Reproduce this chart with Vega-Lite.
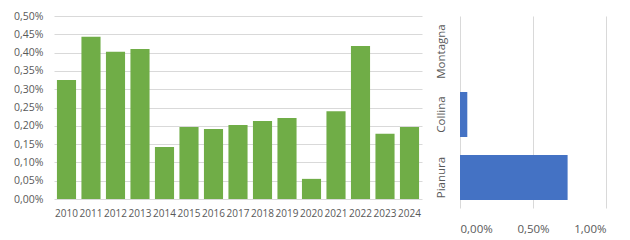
{
  "$schema": "https://vega.github.io/schema/vega-lite/v6.json",
  "padding": {"left": 13, "top": 11, "right": 5, "bottom": 5},
  "background": "white",
  "config": {
    "locale": {"number": {"decimal": ",", "thousands": ".", "grouping": [3], "currency": ["€", ""]}},
    "view": {"stroke": null},
    "font": "Open Sans",
    "axis": {"labelColor": "#595959", "labelFont": "Open Sans", "gridColor": "#D9D9D9", "gridWidth": 1, "domain": false, "ticks": false, "title": null}
  },
  "spacing": 12,
  "hconcat": [
    {
      "width": 368,
      "height": 183,
      "data": {"values": [
        {"anno": "2010", "valore": 0.00325},
        {"anno": "2011", "valore": 0.00443},
        {"anno": "2012", "valore": 0.00402},
        {"anno": "2013", "valore": 0.00410},
        {"anno": "2014", "valore": 0.00142},
        {"anno": "2015", "valore": 0.00197},
        {"anno": "2016", "valore": 0.00191},
        {"anno": "2017", "valore": 0.00202},
        {"anno": "2018", "valore": 0.00213},
        {"anno": "2019", "valore": 0.00221},
        {"anno": "2020", "valore": 0.00055},
        {"anno": "2021", "valore": 0.00240},
        {"anno": "2022", "valore": 0.00418},
        {"anno": "2023", "valore": 0.00178},
        {"anno": "2024", "valore": 0.00197}
      ]},
      "mark": {"type": "bar", "color": "#70AD47"},
      "encoding": {
        "x": {"field": "anno", "type": "ordinal", "scale": {"paddingInner": 0.22, "paddingOuter": 0.12},
              "axis": {"labelAngle": 0, "labelFontSize": 10, "labelPadding": 9, "grid": false, "title": null}},
        "y": {"field": "valore", "type": "quantitative", "scale": {"domain": [0, 0.005]},
              "axis": {"values": [0, 0.0005, 0.001, 0.0015, 0.002, 0.0025, 0.003, 0.0035, 0.004, 0.0045, 0.005], "format": ".2%", "labelFontSize": 10.5, "labelPadding": 11, "grid": true, "title": null}}
      }
    },
    {
      "width": 146,
      "height": 192,
      "data": {"values": [
        {"zona": "Montagna", "valore": 0.0},
        {"zona": "Collina", "valore": 0.0005},
        {"zona": "Pianura", "valore": 0.00737}
      ]},
      "mark": {"type": "bar", "color": "#4472C4"},
      "encoding": {
        "y": {"field": "zona", "type": "nominal", "sort": ["Montagna", "Collina", "Pianura"], "scale": {"paddingInner": 0.2857, "paddingOuter": 0.1667, "align": 0.62},
              "axis": {"labelAngle": -90, "labelFontSize": 11.5, "labelPadding": 14, "grid": false, "title": null}},
        "x": {"field": "valore", "type": "quantitative", "scale": {"domain": [0, 0.01]},
              "axis": {"values": [0, 0.005, 0.01], "format": ".2%", "labelFontSize": 11.5, "labelPadding": 15, "grid": true, "title": null}}
      }
    }
  ]
}
